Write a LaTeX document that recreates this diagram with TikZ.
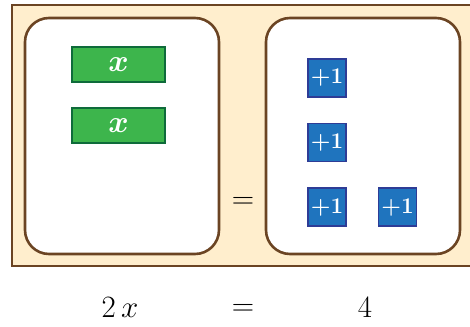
\RequirePackage{fix-cm}
\documentclass[tikz,border=0pt]{standalone}
\usepackage{tikz}
\usetikzlibrary{positioning}
\definecolor{panelbrown}{HTML}{6B4423}
\definecolor{trayfill}{HTML}{FFEECD}
\definecolor{xgreen}{HTML}{3DB54C}
\definecolor{xgreendark}{HTML}{0E6B3A}
\definecolor{oneblue}{HTML}{1F74BE}
\definecolor{onebluedark}{HTML}{2E3C96}

\begin{document}
\begin{tikzpicture}[
    x=1pt, y=-1pt,
    panel/.style={
        draw=panelbrown,
        line width=2.6pt,
        rounded corners=24pt,
        fill=white,
        minimum width=194pt,
        minimum height=236pt
    },
    xtile/.style={
        draw=xgreendark,
        line width=2pt,
        fill=xgreen,
        text=white,
        inner sep=0pt,
        minimum width=93pt,
        minimum height=35pt,
        font=\fontsize{31}{31}\selectfont\boldmath
    },
    unittile/.style={
        draw=onebluedark,
        line width=1.6pt,
        fill=oneblue,
        text=white,
        inner sep=0pt,
        minimum size=38pt,
        font=\fontsize{22.5}{22.5}\selectfont\bfseries
    },
    eqtext/.style={font=\fontsize{31}{31}\selectfont, inner sep=0pt}
]
    \useasboundingbox (0,0) rectangle (470,326);
    \begin{scope}
        \clip (0,0) rectangle (470,326);
        \draw[panelbrown, line width=2.6pt, fill=trayfill] (12,5) rectangle (490,266);
    \end{scope}

    % the two sides of the balance
    \node[panel] (left) at (122,136) {};
    \node[panel] (right) at (363,136) {};

    % left side: two x tiles
    \node[xtile] (x1) at (118.5,64.5) {$x$};
    \node[xtile, below=24pt of x1] (x2) {$x$};

    % right side: four unit tiles
    \node[unittile] (one1) at (327,78) {+1};
    \node[unittile, below=25pt of one1] (one2) {+1};
    \node[unittile, below=25pt of one2] (one3) {+1};
    \node[unittile, right=31pt of one3] (one4) {+1};

    \node[eqtext] (eqmid) at (243,203) {$=$};

    % equation underneath
    \node[eqtext] (lhs) at (120,308) {$2\,x$};
    \node[eqtext] (eqbot) at (243,310) {$=$};
    \node[eqtext] (rhs) at (365,308) {$4$};
\end{tikzpicture}
\end{document}
